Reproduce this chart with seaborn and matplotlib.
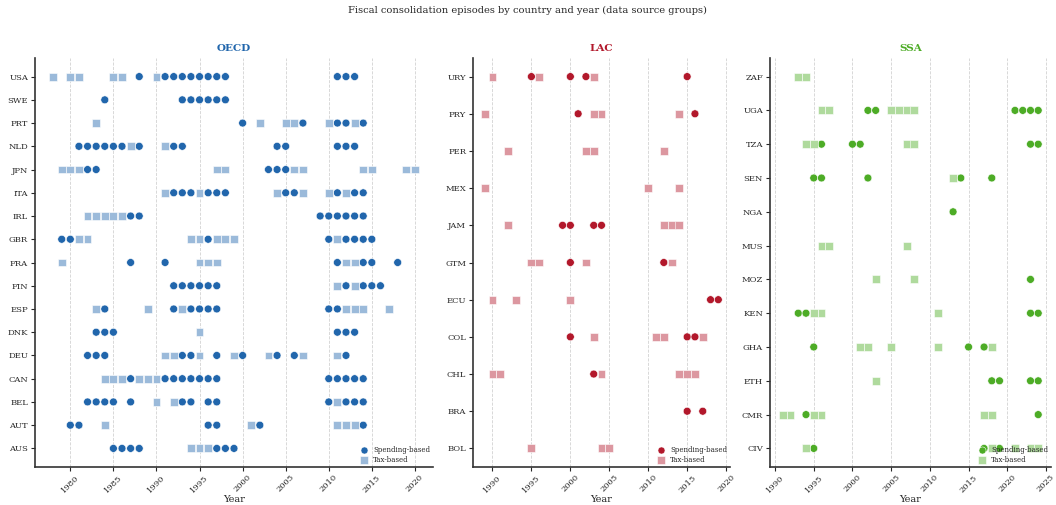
import matplotlib
matplotlib.use("Agg")
import matplotlib.pyplot as plt
from matplotlib.ticker import MultipleLocator
from matplotlib.colors import to_rgb
import seaborn as sns
import pandas as pd

# Consolidation years per country, split by episode type
OECD_SPENDING = {
    "USA": [1988, 1991, 1992, 1993, 1994, 1995, 1996, 1997, 1998, 2011, 2012, 2013],
    "SWE": [1984, 1993, 1994, 1995, 1996, 1997, 1998],
    "PRT": [2000, 2007, 2011, 2012, 2014],
    "NLD": [1981, 1982, 1983, 1984, 1985, 1986, 1988, 1992, 1993, 2004, 2005, 2011, 2012, 2013],
    "JPN": [1982, 1983, 2003, 2004, 2005],
    "ITA": [1992, 1993, 1994, 1996, 1997, 1998, 2005, 2006, 2011, 2013, 2014],
    "IRL": [1987, 1988, 2009, 2010, 2011, 2012, 2013, 2014],
    "GBR": [1979, 1980, 1996, 2010, 2012, 2013, 2014, 2015],
    "FRA": [1987, 1991, 2011, 2014, 2015, 2018],
    "FIN": [1992, 1993, 1994, 1995, 1996, 1997, 2012, 2014, 2015, 2016],
    "ESP": [1984, 1992, 1994, 1995, 1996, 1997, 2010, 2011],
    "DNK": [1983, 1984, 1985, 2011, 2012, 2013],
    "DEU": [1982, 1983, 1984, 1993, 1994, 1997, 2000, 2004, 2006, 2012],
    "CAN": [1987, 1991, 1992, 1993, 1994, 1995, 1996, 1997, 2010, 2011, 2012, 2013, 2014],
    "BEL": [1982, 1983, 1984, 1985, 1987, 1993, 1994, 1996, 1997, 2010, 2012, 2013, 2014],
    "AUT": [1980, 1981, 1996, 1997, 2002, 2014],
    "AUS": [1985, 1986, 1987, 1988, 1997, 1998, 1999],
}
OECD_TAX = {
    "USA": [1978, 1980, 1981, 1985, 1986, 1990],
    "SWE": [],
    "PRT": [1983, 2002, 2005, 2006, 2010, 2013],
    "NLD": [1987, 1991],
    "JPN": [1979, 1980, 1981, 1997, 1998, 2006, 2007, 2014, 2015, 2019, 2020],
    "ITA": [1991, 1995, 2004, 2007, 2010, 2012],
    "IRL": [1982, 1983, 1984, 1985, 1986],
    "GBR": [1981, 1982, 1994, 1995, 1997, 1998, 1999, 2011],
    "FRA": [1979, 1995, 1996, 1997, 2012, 2013],
    "FIN": [2011, 2013],
    "ESP": [1983, 1989, 1993, 2012, 2013, 2014, 2017],
    "DNK": [1995],
    "DEU": [1991, 1992, 1995, 1999, 2003, 2007, 2011],
    "CAN": [1984, 1985, 1986, 1988, 1989, 1990],
    "BEL": [1990, 1992, 2011],
    "AUT": [1984, 2001, 2011, 2012, 2013],
    "AUS": [1994, 1995, 1996],
}

LAC_SPENDING = {
    "URY": [1995, 2000, 2002, 2015],
    "PRY": [2001, 2016],
    "PER": [],
    "MEX": [],
    "JAM": [1999, 2000, 2003, 2004],
    "GTM": [2000, 2012],
    "ECU": [2018, 2019],
    "COL": [2000, 2015, 2016],
    "CHL": [2003],
    "BRA": [2015, 2017],
    "BOL": [],
}
LAC_TAX = {
    "URY": [1990, 1996, 2003],
    "PRY": [1989, 2003, 2004, 2014],
    "PER": [1992, 2002, 2003, 2012],
    "MEX": [1989, 2010, 2014],
    "JAM": [1992, 2012, 2013, 2014],
    "GTM": [1995, 1996, 2002, 2013],
    "ECU": [1990, 1993, 2000],
    "COL": [2003, 2011, 2012, 2017],
    "CHL": [1990, 1991, 2004, 2014, 2015, 2016],
    "BRA": [],
    "BOL": [1995, 2004, 2005],
}

SSA_SPENDING = {
    "ZAF": [],
    "UGA": [2002, 2003, 2021, 2022, 2023, 2024],
    "TZA": [1996, 2000, 2001, 2023, 2024],
    "SEN": [1995, 1996, 2002, 2014, 2018],
    "NGA": [2013],
    "MUS": [],
    "MOZ": [2023],
    "KEN": [1993, 1994, 2023, 2024],
    "GHA": [1995, 2015, 2017],
    "ETH": [2018, 2019, 2023, 2024],
    "CMR": [1994, 2024],
    "CIV": [1995, 2017, 2019],
}
SSA_TAX = {
    "ZAF": [1993, 1994],
    "UGA": [1996, 1997, 2005, 2006, 2007, 2008],
    "TZA": [1994, 1995, 2007, 2008],
    "SEN": [2013],
    "NGA": [],
    "MUS": [1996, 1997, 2007],
    "MOZ": [2003, 2008],
    "KEN": [1995, 1996, 2011],
    "GHA": [2001, 2002, 2005, 2011, 2018],
    "ETH": [2003],
    "CMR": [1991, 1992, 1995, 1996, 2017, 2018],
    "CIV": [1994, 2018, 2021, 2023, 2024],
}

GROUP_NAMES = ["OECD", "LAC", "SSA"]
GROUP_COLORS = ["#2166ac", "#b2182b", "#4dac26"]
EPISODE_TYPES = ["Spending-based", "Tax-based"]
TAX_ALPHA = 0.45


def lighten(color, alpha):
    r, g, b = to_rgb(color)
    return (1 - alpha + alpha * r, 1 - alpha + alpha * g, 1 - alpha + alpha * b)


def to_frame(spending, tax):
    countries = sorted(spending.keys())
    rows = []
    for kind, table in zip(EPISODE_TYPES, [spending, tax]):
        for c in countries:
            for yr in table[c]:
                rows.append({"country": c, "pos": countries.index(c),
                             "year": yr, "type": kind})
    return countries, pd.DataFrame(rows)


sns.set_theme(style="ticks")
plt.rcParams["font.family"] = ["DejaVu Serif"]

fig = plt.figure(figsize=(10.56, 5.05), dpi=100)
W, H = 1056, 505
top, bottom = 58, 467
rects = [(35, 398), (473, 257), (770, 281)]

panels = [
    (OECD_SPENDING, OECD_TAX),
    (LAC_SPENDING, LAC_TAX),
    (SSA_SPENDING, SSA_TAX),
]

for (left, width), name, color, (sp, tx) in zip(rects, GROUP_NAMES, GROUP_COLORS, panels):
    ax = fig.add_axes([left / W, 1 - bottom / H, width / W, (bottom - top) / H])
    countries, df = to_frame(sp, tx)
    palette = {EPISODE_TYPES[0]: color, EPISODE_TYPES[1]: lighten(color, TAX_ALPHA)}
    sns.scatterplot(
        data=df, x="year", y="pos", hue="type", style="type",
        hue_order=EPISODE_TYPES, style_order=EPISODE_TYPES,
        markers={EPISODE_TYPES[0]: "o", EPISODE_TYPES[1]: "s"},
        palette=palette, s=32, linewidth=0.4, edgecolor="white",
        ax=ax, zorder=3,
    )
    ax.set_yticks(range(len(countries)))
    ax.set_yticklabels(countries)
    ax.xaxis.set_major_locator(MultipleLocator(5))
    ax.grid(axis="x", linestyle="--", linewidth=0.6, color="#d2d2d2", zorder=0)
    ax.grid(axis="y", visible=False)
    ax.set_axisbelow(True)
    ax.tick_params(axis="x", labelrotation=45, labelsize=6, length=3, width=0.8, pad=1.5)
    ax.tick_params(axis="y", labelsize=6, length=3, width=0.8, pad=2)
    for s in ["top", "right"]:
        ax.spines[s].set_visible(False)
    for s in ["left", "bottom"]:
        ax.spines[s].set_linewidth(1.2)
        ax.spines[s].set_color("#333333")
    ax.set_xlabel("Year", fontsize=7, labelpad=1)
    ax.set_ylabel("")
    ax.set_title(name, color=color, fontweight="bold", fontsize=7.5, pad=5)
    handles, labels = ax.get_legend_handles_labels()
    ax.legend(handles, labels, loc="lower right", frameon=False, fontsize=5,
              markerscale=0.9, handletextpad=0.3, labelspacing=0.25,
              borderaxespad=0.2, borderpad=0.2)

fig.suptitle("Fiscal consolidation episodes by country and year (data source groups)",
             fontsize=7.1, y=0.988)

fig.savefig("out.png", dpi=100)
